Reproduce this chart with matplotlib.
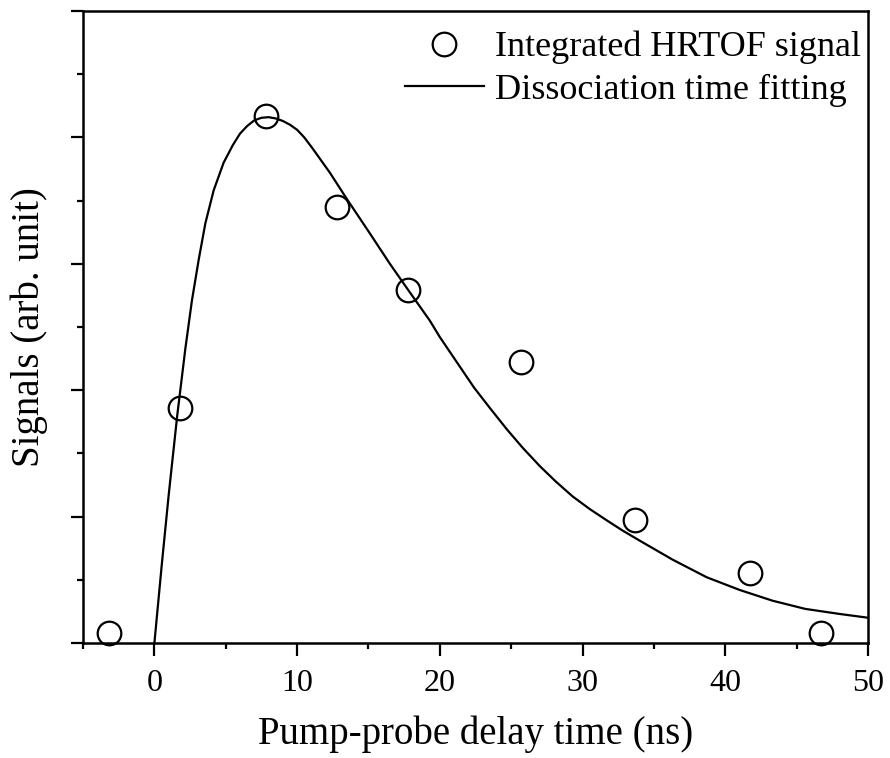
# Pump-probe delay scan: integrated HRTOF signal and dissociation time fit

import numpy as np
import matplotlib.pyplot as plt
from matplotlib.ticker import MultipleLocator

plt.rcParams['font.family'] = ['Liberation Serif', 'DejaVu Serif']
plt.rcParams['mathtext.fontset'] = 'stix'

delay = [-3.2, 1.8, 7.8, 12.8, 17.8, 25.7, 33.7, 41.7, 46.7]
signal = [0.08, 1.86, 4.17, 3.45, 2.79, 2.22, 0.97, 0.55, 0.08]

# fitted curve
fit_t = [0, 0.5, 1.0, 1.6, 2.17, 2.63, 3.1, 3.57, 4.15, 4.85, 5.5, 6.0,
         6.5, 7.0, 7.5, 8.0, 8.5, 9.0, 9.5, 10.0, 10.5, 11.1, 12.3, 13.5,
         15.1, 16.5, 17.8, 19.3, 20.0, 21.2, 22.4, 23.5, 24.7, 25.8, 27.0,
         28.1, 29.3, 30.5, 31.7, 32.8, 34.0, 36.3, 38.7, 41.0, 43.3, 45.6,
         48.0, 50.0]
fit_v = [0.0, 0.6, 1.17, 1.80, 2.33, 2.71, 3.03, 3.32, 3.58, 3.80, 3.94,
         4.03, 4.09, 4.135, 4.155, 4.16, 4.15, 4.13, 4.10, 4.06, 4.0, 3.91,
         3.72, 3.51, 3.24, 3.00, 2.79, 2.55, 2.42, 2.22, 2.02, 1.86, 1.69,
         1.545, 1.40, 1.28, 1.16, 1.06, 0.97, 0.89, 0.81, 0.66, 0.52, 0.42,
         0.335, 0.27, 0.23, 0.20]

fig = plt.figure(figsize=(8.9, 7.58), dpi=100)
ax = fig.add_axes([0.0933, 0.1517, 0.882, 0.8338])

ax.plot(delay, signal, linestyle='none', marker='o', markersize=17,
        markerfacecolor='none', markeredgecolor='black', markeredgewidth=1.6,
        label='Integrated HRTOF signal', clip_on=False, zorder=3)
ax.plot(fit_t, fit_v, color='black', linewidth=1.6,
        label='Dissociation time fitting')

ax.set_xlim(-5, 50)
ax.set_ylim(0, 5)
ax.xaxis.set_major_locator(MultipleLocator(10))
ax.xaxis.set_minor_locator(MultipleLocator(5))
ax.yaxis.set_major_locator(MultipleLocator(1))
ax.yaxis.set_minor_locator(MultipleLocator(0.5))
ax.set_yticklabels([])

ax.tick_params(which='major', direction='out', length=9, width=1.6,
               labelsize=23, pad=10)
ax.tick_params(which='minor', direction='out', length=4.5, width=1.6)
for s in ax.spines.values():
    s.set_linewidth(1.8)

ax.set_xlabel('Pump-probe delay time (ns)', fontsize=28, labelpad=12)
ax.set_ylabel('Signals (arb. unit)', fontsize=28, labelpad=6)

ax.legend(loc='upper right', bbox_to_anchor=(1.0, 0.98), frameon=False,
          fontsize=26, handlelength=2.2, handletextpad=0.3,
          borderaxespad=0, labelspacing=0.25, borderpad=0.2)

fig.savefig('out.png', dpi=100)
